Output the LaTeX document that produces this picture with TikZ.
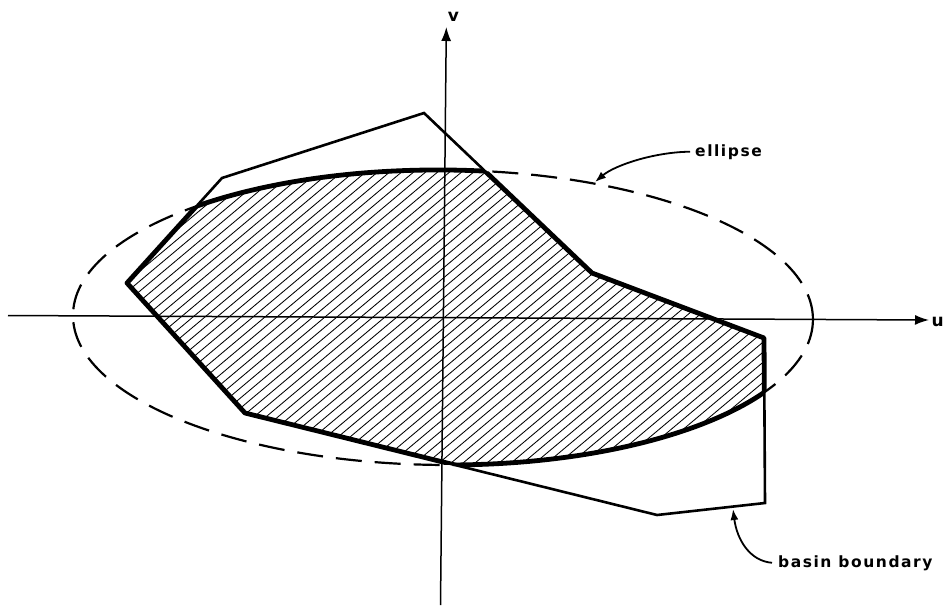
\documentclass[tikz,border=0pt]{standalone}
\usepackage{fontspec}
\newfontfamily\lblfont[LetterSpace=10]{DejaVu Sans}
\usetikzlibrary{arrows.meta}
\begin{document}
\begin{tikzpicture}[x=1pt,y=-1pt,
  axis/.style={line width=1.5pt, -{Latex[length=14pt,width=10pt]}},
  basin/.style={line width=2.6pt, line join=miter},
  thickb/.style={line width=4.8pt, line join=round},
  ell/.style={line width=2.2pt, dash pattern=on 26pt off 13pt},
  hatch/.style={line width=0.85pt},
  lbl/.style={font=\lblfont\bfseries\fontsize{15.5}{18}\selectfont, inner sep=0pt},
  axlbl/.style={font=\lblfont\bfseries\fontsize{17}{20}\selectfont, inner sep=0pt},
  pointer/.style={line width=1.8pt, -{Latex[length=11pt,width=8pt]}}]
\useasboundingbox (0,0) rectangle (944,610);
\fill[white] (0,0) rectangle (944,610);
% basin boundary vertices
\coordinate (P1) at (424,113);
\coordinate (P2) at (592,273);
\coordinate (P3) at (764,338);
\coordinate (P4) at (765,503);
\coordinate (P5) at (657,515);
\coordinate (P6) at (245,413);
\coordinate (P7) at (127,283);
\coordinate (P8) at (222,178);
\coordinate (C) at (443,317.5);
% axes end points
\coordinate (xl) at (8,315.5);
\coordinate (xr) at (929,320);
\coordinate (yb) at (440.5,605);
\coordinate (yt) at (446.3,27);
% axes
\draw[axis] (xl) -- (xr);
\draw[axis] (yb) -- (yt);
% hatching of the intersection
\begin{scope}
  \clip (P1)--(P2)--(P3)--(P4)--(P5)--(P6)--(P7)--(P8)--cycle;
  \clip[rotate around={-0.35:(C)}] (C) ellipse [x radius=370pt, y radius=147.5pt];
  \foreach \k in {0,...,68} {
    \draw[hatch] ({-300+12*\k},620) -- ++(766,-643);
  }
\end{scope}
% dashed ellipse
\draw[ell, rotate around={-0.35:(C)}] (C) ellipse [x radius=370pt, y radius=147.5pt];
% thin basin boundary
\draw[basin] (P1)--(P2)--(P3)--(P4)--(P5)--(P6)--(P7)--(P8)--cycle;
% thick boundary of the shaded region
\begin{scope}
  \clip[rotate around={-0.35:(C)}] (C) ellipse [x radius=370pt, y radius=147.5pt];
  \draw[thickb] (P1)--(P2)--(P3)--(P4)--(P5)--(P6)--(P7)--(P8)--cycle;
\end{scope}
\begin{scope}
  \clip (P1)--(P2)--(P3)--(P4)--(P5)--(P6)--(P7)--(P8)--cycle;
  \draw[thickb, rotate around={-0.35:(C)}] (C) ellipse [x radius=370pt, y radius=147.5pt];
\end{scope}
% labels
\node[axlbl] (vl) at (453.5,17) {v};
\node[axlbl, anchor=west] (ul) at (931.5,322) {u};
\node[lbl, anchor=base west] (elab) at (695,156) {ellipse};
\node[lbl, anchor=base west] (blab) at (778,567) {basin boundary};
\coordinate (etip) at (595,182);
\coordinate (btip) at (733,509);
\draw[pointer] ([xshift=-5pt]elab.west) .. controls (655,152) and (615,165) .. (etip);
\draw[pointer] ([xshift=-6pt]blab.west) .. controls (750,561) and (737,540) .. (btip);
\end{tikzpicture}
\end{document}
